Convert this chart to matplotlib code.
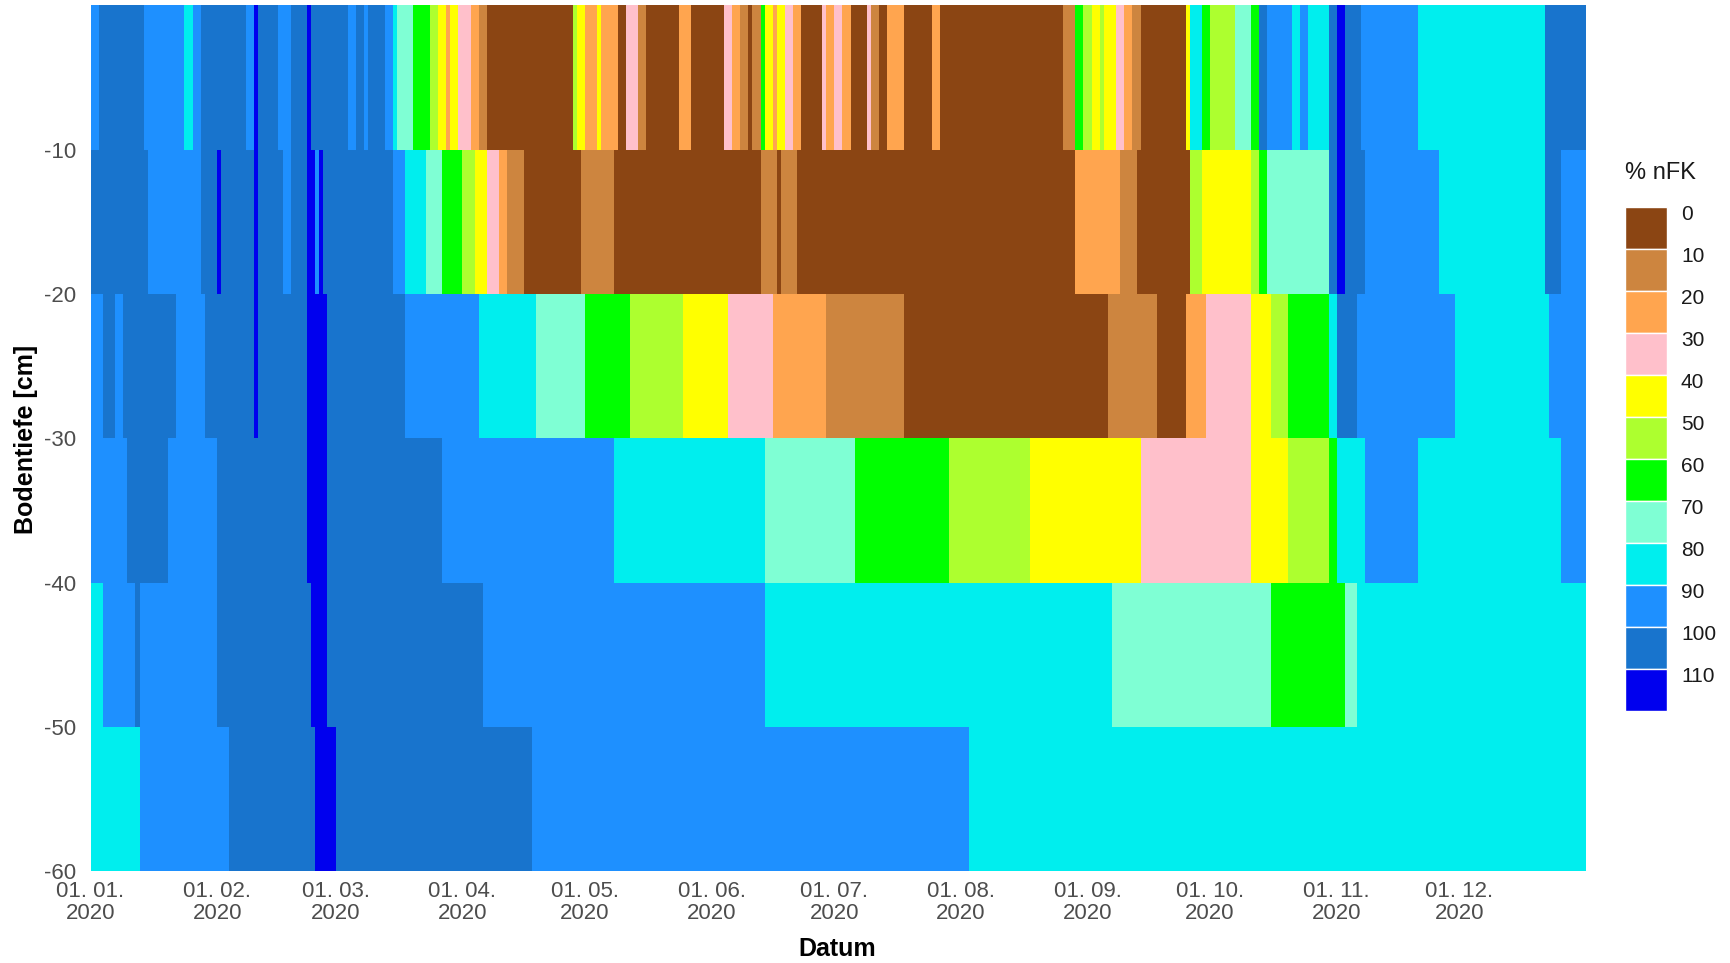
import datetime as dt
import numpy as np
import matplotlib
matplotlib.use('Agg')
import matplotlib.pyplot as plt
import matplotlib.dates as mdates
from matplotlib.colors import ListedColormap, BoundaryNorm
from matplotlib.patches import Rectangle

# nFK classes and their colours
classes = [0, 10, 20, 30, 40, 50, 60, 70, 80, 90, 100, 110]
class_colors = ['#8B4513', '#CD853F', '#FFA54F', '#FFC0CB', '#FFFF00', '#ADFF2F',
                '#00FF00', '#7FFFD4', '#00EEEE', '#1E90FF', '#1874CD', '#0000EE']

# depth layers (upper, lower) in cm
depth_top = [0, -10, -20, -30, -40, -50]
depth_bottom = [-10, -20, -30, -40, -50, -60]

# run-length data per layer: day of year (0 = 01.01.2020) where a class starts
l1_start = [0, 2, 13, 23, 25, 27, 38, 40, 41, 46, 49, 53, 54, 63, 65, 67, 68, 72, 74, 75,
            79, 83, 85, 87, 88, 90, 93, 95, 97, 118, 119, 121, 124, 125, 129, 131, 134, 136,
            144, 147, 155, 157, 159, 161, 162, 164, 165, 167, 168, 170, 172, 174, 179, 180,
            182, 184, 186, 190, 191, 193, 195, 199, 206, 208, 238, 241, 243, 245, 247, 248,
            251, 253, 255, 257, 268, 269, 272, 274, 280, 284, 286, 288, 294, 296, 298, 303,
            305, 307, 311, 325, 356]
l1_val = [90, 100, 90, 80, 90, 100, 90, 110, 100, 90, 100, 110, 100, 90, 100, 90, 100, 90, 80, 70,
          60, 50, 40, 20, 40, 30, 20, 10, 0, 50, 40, 20, 40, 20, 0, 30, 10, 0,
          20, 0, 30, 20, 10, 0, 10, 60, 40, 20, 40, 30, 20, 0, 30, 20,
          30, 20, 0, 30, 10, 0, 20, 0, 20, 0, 10, 60, 50, 40, 50, 40,
          30, 20, 10, 0, 40, 80, 60, 50, 70, 60, 100, 90, 80, 90, 80, 100,
          110, 100, 90, 80, 100]

l2_start = [0, 14, 27, 31, 32, 40, 41, 47, 49, 53, 55, 56, 57, 74, 77, 82, 86, 91, 94, 97, 100,
            102, 106, 120, 128, 164, 168, 169, 173, 241, 252, 256, 269, 272, 284, 286, 288,
            303, 305, 307, 312, 330, 356, 360]
l2_val = [100, 90, 100, 110, 100, 110, 100, 90, 100, 110, 90, 110, 100, 90, 80, 70, 60, 50, 40, 30, 20,
          10, 0, 10, 0, 10, 0, 10, 0, 20, 10, 0, 50, 40, 50, 60, 70,
          100, 110, 100, 90, 80, 100, 90]

l3_start = [0, 3, 6, 8, 21, 28, 40, 41, 53, 58, 77, 95, 109, 121, 132, 145, 156, 167, 180, 199,
            249, 261, 268, 273, 284, 289, 293, 303, 305, 310, 334, 357]
l3_val = [90, 100, 90, 100, 90, 100, 110, 100, 110, 100, 90, 80, 70, 60, 50, 40, 30, 20, 10, 0,
          10, 0, 20, 30, 40, 50, 60, 80, 100, 90, 80, 90]

l4_start = [0, 9, 19, 31, 53, 58, 86, 128, 165, 187, 210, 230, 257, 284, 293, 303, 305, 312, 325, 360]
l4_val = [90, 100, 90, 100, 110, 100, 90, 80, 70, 60, 50, 40, 30, 40, 50, 60, 80, 90, 80, 90]

l5_start = [0, 3, 11, 12, 31, 54, 58, 96, 165, 250, 289, 307, 310]
l5_val = [80, 90, 100, 90, 100, 110, 100, 90, 80, 70, 60, 70, 80]

l6_start = [0, 12, 34, 55, 60, 108, 215]
l6_val = [80, 90, 100, 110, 100, 90, 80]

tick_months = [1, 2, 3, 4, 5, 6, 7, 8, 9, 10, 11, 12]
n_days = 366


def expand(starts, vals, n):
    """Turn change points into one value per day."""
    out = np.zeros(n)
    for i, s in enumerate(starts):
        e = starts[i + 1] if i + 1 < len(starts) else n
        out[s:e] = vals[i]
    return out


layers = [(l1_start, l1_val), (l2_start, l2_val), (l3_start, l3_val),
          (l4_start, l4_val), (l5_start, l5_val), (l6_start, l6_val)]
grid = np.array([expand(s, v, n_days) for s, v in layers])

plt.rcParams['font.family'] = ['Liberation Sans', 'DejaVu Sans']
plt.rcParams['axes.unicode_minus'] = False

W, H = 1731, 963
fig = plt.figure(figsize=(W / 100, H / 100), dpi=100)
ax = fig.add_axes([90.5 / W, 1 - 871 / H, (1586 - 90.5) / W, (871 - 5.5) / H])

start = dt.date(2020, 1, 1)
x_edges = mdates.date2num([start + dt.timedelta(days=i) for i in range(n_days + 1)])
y_edges = depth_top + [depth_bottom[-1]]

cmap = ListedColormap(class_colors)
norm = BoundaryNorm([c - 5 for c in classes] + [classes[-1] + 5], cmap.N)
ax.pcolormesh(x_edges, y_edges, grid, cmap=cmap, norm=norm, shading='flat')

ax.set_xlim(x_edges[0], x_edges[-1])
ax.set_ylim(-60, 0)
ax.set_yticks([-10, -20, -30, -40, -50, -60])
ax.set_xticks(mdates.date2num([dt.date(2020, m, 1) for m in tick_months]))
ax.xaxis.set_major_formatter(mdates.DateFormatter('%d. %m.\n%Y'))
ax.tick_params(axis='both', length=0, labelsize=16, colors='#4D4D4D')
ax.tick_params(axis='x', pad=7)
ax.tick_params(axis='y', pad=10)
for lbl in ax.get_xticklabels():
    lbl.set_linespacing(1.05)
for sp in ax.spines.values():
    sp.set_visible(False)

fig.text(837 / W, 1 - 949 / H, 'Datum', ha='center', va='center',
         fontsize=18, fontweight='bold', color='black')
fig.text(26.5 / W, 1 - 439 / H, 'Bodentiefe [cm]', ha='center', va='center',
         rotation=90, fontsize=18, fontweight='bold', color='black')

# legend drawn by hand
box_h = 42.0
top0 = 207
box_x = 1625
fig.text(box_x / W, 1 - 173 / H, '% nFK', ha='left', va='center', fontsize=17, color='#1A1A1A')
for i, (c, col) in enumerate(zip(classes, class_colors)):
    top = top0 + i * box_h
    fig.add_artist(Rectangle((box_x / W, 1 - (top + box_h) / H), 42 / W, box_h / H,
                             transform=fig.transFigure, facecolor=col,
                             edgecolor='white', linewidth=1.0))
    fig.text(1681 / W, 1 - (top + 7) / H, str(c), ha='left', va='center',
             fontsize=15, color='#1A1A1A')

fig.savefig('out.png', dpi=100)
